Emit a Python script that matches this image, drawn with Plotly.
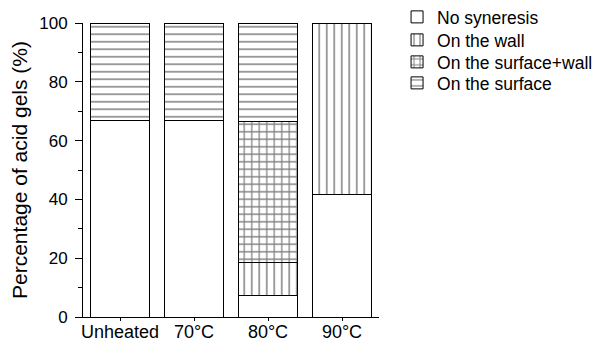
import plotly.graph_objects as go

categories = ["Unheated", "70°C", "80°C", "90°C"]
no_syneresis = [66.7, 66.7, 7.4, 41.7]
on_wall = [0, 0, 11.1, 58.3]
on_surface_wall = [0, 0, 48.1, 0]
on_surface = [33.3, 33.3, 33.3, 0]

series = [
    ("No syneresis", no_syneresis, "", 0.2),
    ("On the wall", on_wall, "|", 0.2),
    ("On the surface+wall", on_surface_wall, "+", 0.3),
    ("On the surface", on_surface, "-", 0.2),
]

W, H = 598, 345
ML, MR, MT, MB = 83, 219, 23, 28
PH = H - MT - MB
legend_rows_px = [17, 40, 62, 83]

font = dict(family="Liberation Sans, Arial, sans-serif", color="black")
xpos = list(range(len(categories)))
fig = go.Figure()
legend_layout = {}
for i, (name, vals, shape, sol) in enumerate(series):
    lname = "legend" if i == 0 else f"legend{i + 1}"
    fig.add_trace(go.Bar(
        x=xpos, y=vals, name=name, width=0.8, legend=lname,
        marker=dict(
            color="white",
            line=dict(color="black", width=1),
            pattern=dict(shape=shape, fgcolor="black", bgcolor="white",
                         size=7.5, solidity=sol, fillmode="overlay"),
        ),
    ))
    legend_layout[lname] = dict(
        x=1.061, y=(H - MB - legend_rows_px[i]) / PH,
        xanchor="left", yanchor="middle",
        font=dict(size=17.5, **font), bgcolor="rgba(0,0,0,0)",
        itemwidth=30,
    )

fig.update_layout(
    barmode="stack",
    width=W, height=H,
    margin=dict(l=ML, r=MR, t=MT, b=MB, autoexpand=False),
    plot_bgcolor="white", paper_bgcolor="white",
    font=dict(size=17, **font),
    showlegend=True,
    xaxis=dict(
        range=[-0.5, 3.5], tickmode="array", tickvals=xpos, ticktext=categories,
        showline=True, linecolor="black", linewidth=1,
        ticks="outside", ticklen=3, tickcolor="black", ticklabelstandoff=-5,
        showgrid=False, zeroline=False, tickfont=dict(size=18),
        automargin=False,
    ),
    yaxis=dict(
        range=[0, 100], tickvals=[0, 20, 40, 60, 80, 100],
        showline=True, linecolor="black", linewidth=1,
        ticks="outside", ticklen=7, tickcolor="black", ticklabelstandoff=4,
        minor=dict(ticks="outside", ticklen=4, dtick=10, tickcolor="black"),
        showgrid=False, zeroline=False, tickfont=dict(size=17),
        title=dict(text="Percentage of acid gels (%)", font=dict(size=21), standoff=5),
        automargin=False,
    ),
    **legend_layout,
)
fig.write_html("out.html", config={"displayModeBar": False},
               post_script="document.body.style.margin='0';")
